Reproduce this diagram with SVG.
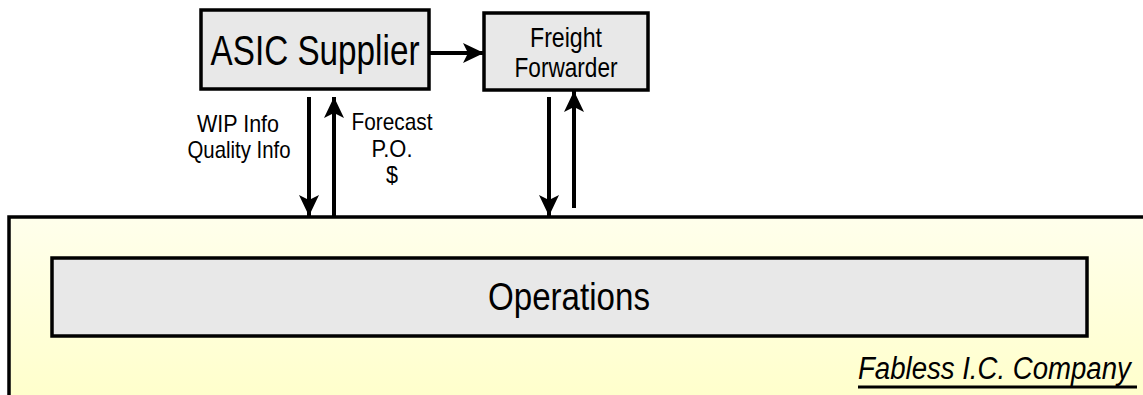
<svg xmlns="http://www.w3.org/2000/svg" width="1143" height="395" viewBox="0 0 1143 395">
  <defs>
    <linearGradient id="yel" x1="0" y1="0" x2="0" y2="1">
      <stop offset="0" stop-color="#FFFFEC"/>
      <stop offset="1" stop-color="#FFFFCC"/>
    </linearGradient>
    <marker id="ah" markerUnits="userSpaceOnUse" markerWidth="24" markerHeight="24" viewBox="-22 -12 24 24" refX="0" refY="0" orient="auto">
      <path d="M0,0 L-21,-10 L-16,0 L-21,10 Z" fill="#000"/>
    </marker>
    <style>
      .box { fill: #E8E8E8; stroke: #000; stroke-width: 3.5; }
      .t { font-family: "Liberation Sans", Arial, sans-serif; fill: #000; }
      .c { text-anchor: middle; }
      .lbl { font-size: 24px; }
      .conn { stroke: #000; stroke-width: 4; fill: none; marker-end: url(#ah); }
    </style>
  </defs>
  <rect width="1143" height="395" fill="#fff"/>
  <g id="company">
    <rect x="9" y="217" width="1134" height="178" fill="url(#yel)"/>
    <polyline points="9,395 9,217 1143,217" fill="none" stroke="#000" stroke-width="3.5"/>
    <text class="t" transform="translate(858,379) scale(0.89,1)" x="0" y="0" font-size="31" font-style="italic">Fabless I.C. Company</text>
    <line x1="858" y1="387" x2="1137" y2="387" stroke="#000" stroke-width="3"/>
  </g>
  <g id="operations">
    <rect class="box" x="52" y="258" width="1035" height="78"/>
    <text class="t c" x="569" y="310" font-size="38" textLength="162" lengthAdjust="spacingAndGlyphs">Operations</text>
  </g>
  <g id="asic">
    <rect class="box" x="201" y="10" width="228" height="79"/>
    <text class="t c" x="315" y="65" font-size="43" textLength="209" lengthAdjust="spacingAndGlyphs">ASIC Supplier</text>
  </g>
  <g id="freight">
    <rect class="box" x="484" y="13" width="164" height="77"/>
    <text class="t c" x="566" y="47" font-size="28" textLength="72" lengthAdjust="spacingAndGlyphs">Freight</text>
    <text class="t c" x="566" y="77" font-size="28" textLength="103" lengthAdjust="spacingAndGlyphs">Forwarder</text>
  </g>
  <g id="connectors">
    <line class="conn" x1="429" y1="53" x2="484" y2="53"/>
    <line class="conn" x1="309" y1="97" x2="309" y2="216"/>
    <line class="conn" x1="334" y1="216" x2="334" y2="97"/>
    <line class="conn" x1="549" y1="97" x2="549" y2="216"/>
    <line class="conn" x1="574" y1="208" x2="574" y2="91"/>
  </g>
  <g id="labels">
    <text class="t c lbl" x="238" y="132" textLength="82" lengthAdjust="spacingAndGlyphs">WIP Info</text>
    <text class="t c lbl" x="239" y="158" textLength="103" lengthAdjust="spacingAndGlyphs">Quality Info</text>
    <text class="t c lbl" x="392" y="130" textLength="81" lengthAdjust="spacingAndGlyphs">Forecast</text>
    <text class="t c lbl" x="392" y="157" textLength="41" lengthAdjust="spacingAndGlyphs">P.O.</text>
    <text class="t c lbl" x="392" y="183" textLength="12" lengthAdjust="spacingAndGlyphs">$</text>
  </g>
</svg>
